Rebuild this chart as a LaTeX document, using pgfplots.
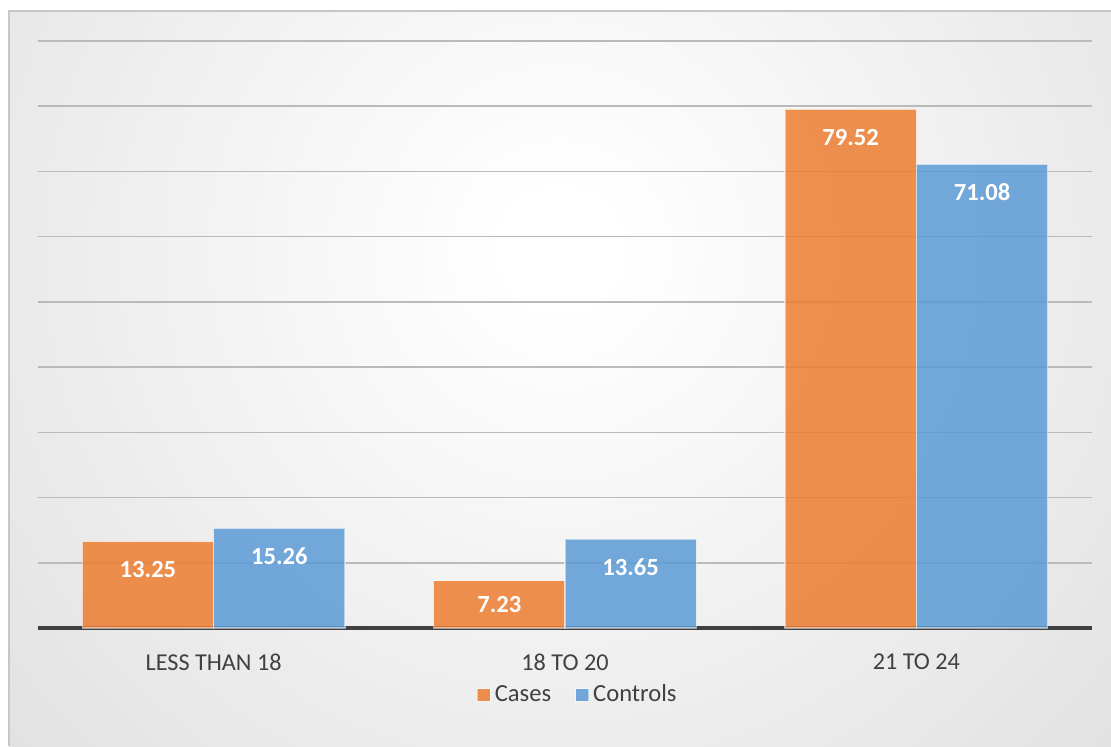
\documentclass[border=0pt]{standalone}
\usepackage{pgfplots}
\pgfplotsset{compat=1.18}
\usepackage{fontspec}
\setmainfont{Carlito}
\definecolor{caseor}{HTML}{ED7D31}
\definecolor{ctrlbl}{HTML}{5B9BD5}
\definecolor{txtgray}{HTML}{404040}
\pgfdeclareradialshading{bgshade}{\pgfpoint{0bp}{0bp}}{color(0bp)=(white); color(1bp)=(white); color(25bp)=(black!22); color(50bp)=(black!22)}
\begin{document}
\begin{tikzpicture}
\path[use as bounding box] (-19pt,-59pt) rectangle (536.5pt,314pt);
\begin{scope}
\clip (-14.5pt,-59pt) rectangle (536.5pt,308.5pt);
\shade[shading=bgshade] (261pt,189pt) circle (690pt);
\end{scope}
\draw[black!22, line width=0.8pt] (-14.5pt,-59pt) -- (-14.5pt,308.5pt) -- (536.5pt,308.5pt);
\begin{axis}[
  at={(0pt,0pt)}, anchor=south west,
  scale only axis, width=527pt, height=293.5pt,
  ybar=0pt, bar width=65.7pt,
  xmin=-0.5, xmax=2.5, ymin=0, ymax=90,
  xtick={0,1,2},
  xticklabels={LESS THAN 18, 18 TO 20, 21 TO 24},
  ytick={10,20,...,90}, yticklabels={},
  extra y ticks={0}, extra y tick labels={},
  extra y tick style={grid style={draw=black!75, line width=1.6pt}},
  ymajorgrids,
  grid style={draw=black!27, line width=0.8pt},
  major tick length=0pt,
  axis line style={draw=none},
  tick style={draw=none},
  xticklabel style={font=\fontsize{12.1}{14}\selectfont, text=txtgray, yshift=-9.5pt},
  /pgf/number format/assume math mode=true,
  /pgf/number format/.cd, fixed, precision=2, fixed zerofill, /pgfplots/.cd,
  visualization depends on={y \as \rawy},
  nodes near coords,
  nodes near coords style={font=\bfseries\fontsize{12.3}{14}\selectfont, text=white, anchor=center, yshift={-min(14,\rawy*1.63)*1pt}},
  legend style={at={(axis description cs:0.513,-0.114)}, anchor=center, draw=none, fill=none,
    font=\fontsize{12.3}{14}\selectfont, text=txtgray, legend columns=2,
    /tikz/every even column/.append style={column sep=10pt}},
  legend image code/.code={\fill[#1] (0pt,-3.2pt) rectangle (6.4pt,3.2pt);},
]
\addplot[fill=caseor, fill opacity=0.85, draw=white, draw opacity=0.5, line width=0.6pt, text opacity=1] coordinates {(0,13.25) (1,7.23) (2,79.52)};
\addplot[fill=ctrlbl, fill opacity=0.85, draw=white, draw opacity=0.5, line width=0.6pt, text opacity=1] coordinates {(0,15.26) (1,13.65) (2,71.08)};
\legend{Cases, Controls}
\end{axis}
\end{tikzpicture}
\end{document}
